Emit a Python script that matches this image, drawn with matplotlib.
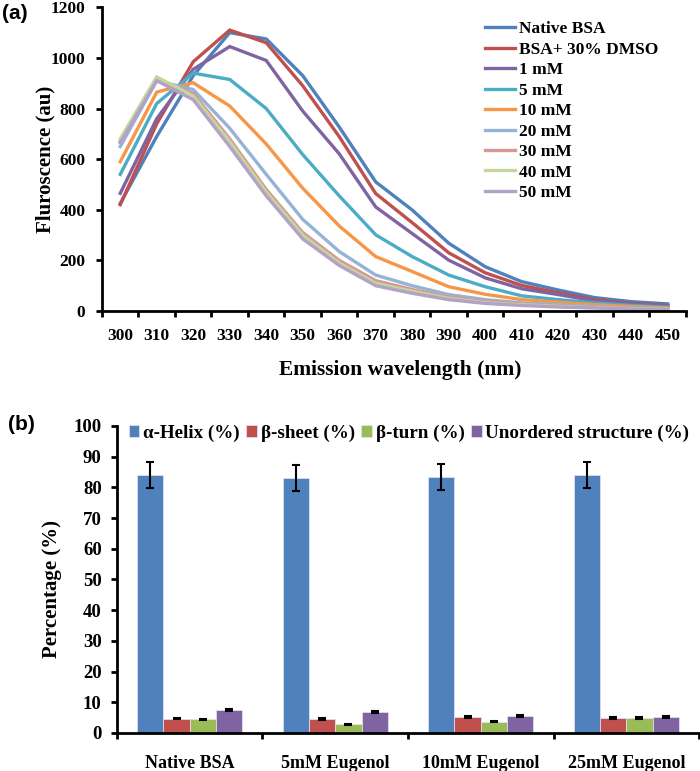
import numpy as np
import matplotlib.pyplot as plt

plt.rcParams['font.family'] = ['Liberation Serif', 'DejaVu Serif']
plt.rcParams['font.weight'] = 'bold'

# panel (a) data
wavelength = [300, 310, 320, 330, 340, 350, 360, 370, 380, 390, 400, 410, 420, 430, 440, 450]
native_bsa = [425, 690, 930, 1100, 1075, 930, 727, 510, 399, 268, 175, 116, 83, 53, 37, 28]
bsa_dmso = [420, 740, 985, 1110, 1060, 890, 689, 464, 349, 230, 151, 101, 72, 45, 30, 22]
mm1 = [465, 760, 955, 1045, 990, 790, 621, 411, 306, 201, 131, 88, 65, 40, 28, 20]
mm5 = [540, 820, 940, 915, 800, 618, 455, 301, 215, 142, 96, 60, 45, 32, 22, 15]
mm10 = [590, 865, 902, 810, 660, 485, 336, 215, 156, 96, 66, 45, 35, 25, 18, 12]
mm20 = [650, 910, 875, 722, 540, 362, 235, 142, 100, 65, 45, 32, 25, 18, 12, 10]
mm30 = [670, 915, 860, 680, 480, 310, 200, 120, 85, 55, 38, 28, 20, 15, 10, 8]
mm40 = [680, 925, 850, 670, 470, 300, 190, 110, 78, 50, 33, 25, 18, 13, 9, 7]
mm50 = [665, 910, 835, 650, 455, 285, 180, 100, 70, 45, 30, 22, 16, 12, 8, 6]

series_a = [native_bsa, bsa_dmso, mm1, mm5, mm10, mm20, mm30, mm40, mm50]
labels_a = ['Native BSA', 'BSA+ 30% DMSO', '1 mM', '5 mM', '10 mM', '20 mM', '30 mM', '40 mM', '50 mM']
colors_a = ['#4F81BD', '#C0504D', '#8064A2', '#4BACC6', '#F79646',
            '#95B3D7', '#D99694', '#C3D69B', '#B3A2C7']

# panel (b) data
groups = ['Native BSA', '5mM Eugenol', '10mM Eugenol', '25mM Eugenol']
helix = [84.1, 83.0, 83.3, 84.1]
helix_err = [4.3, 4.2, 4.2, 4.2]
sheet = [4.7, 4.6, 5.1, 4.9]
sheet_err = [0.3, 0.3, 0.3, 0.3]
turn = [4.4, 2.8, 3.7, 4.8]
turn_err = [0.3, 0.2, 0.2, 0.3]
unordered = [7.4, 6.9, 5.4, 5.1]
unordered_err = [0.4, 0.4, 0.3, 0.3]
labels_b = ['α-Helix (%)', 'β-sheet (%)', 'β-turn (%)', 'Unordered structure (%)']
colors_b = ['#4F81BD', '#C0504D', '#9BBB59', '#8064A2']

fig = plt.figure(figsize=(7, 7.71), dpi=100)

# ---- (a)
ax1 = fig.add_axes([0.1457, 0.5966, 0.8343, 0.3939])
x = np.arange(len(wavelength))
for s, lab, c in zip(series_a, labels_a, colors_a):
    ax1.plot(x, s, color=c, lw=2.4, label=lab, solid_joinstyle='miter')
ax1.set_xlim(-0.5, len(wavelength) - 0.5)
ax1.set_ylim(0, 1200)
ax1.set_yticks(range(0, 1201, 200))
ax1.set_xticks(np.arange(-0.5, len(wavelength), 1))
ax1.set_xticklabels([])
ax1.set_xticks(x, minor=True)
ax1.set_xticklabels([str(w) for w in wavelength], minor=True)
ax1.tick_params(axis='x', which='major', direction='out', length=4, width=2)
ax1.tick_params(axis='x', which='minor', length=0, pad=12, labelsize=12.5)
ax1.tick_params(axis='y', direction='out', length=4, width=2, pad=8, labelsize=12.5)
for sp in ['top', 'right']:
    ax1.spines[sp].set_visible(False)
for sp in ['left', 'bottom']:
    ax1.spines[sp].set_linewidth(2)
ax1.set_ylabel('Fluroscence (au)', fontsize=15, fontweight='bold')
ax1.yaxis.set_label_coords(-0.079, 0.5)
ax1.set_xlabel('Emission wavelength (nm)', fontsize=15.5, fontweight='bold')
ax1.xaxis.set_label_coords(0.51, -0.162)
ax1.legend(loc='upper left', bbox_to_anchor=(0.693, 0.9728), bbox_transform=fig.transFigure,
           frameon=False, fontsize=12.5, handlelength=1.75, handletextpad=0.2,
           labelspacing=0.25, borderpad=0, borderaxespad=0)

# ---- (b)
ax2 = fig.add_axes([0.1671, 0.0493, 0.8315, 0.3982])
gx = np.arange(len(groups))
w = 0.181
vals = [helix, sheet, turn, unordered]
errs = [helix_err, sheet_err, turn_err, unordered_err]
for i, (v, e, lab, c) in enumerate(zip(vals, errs, labels_b, colors_b)):
    ax2.bar(gx + (i - 1.5) * w, v, w, yerr=e, color=c, label=lab,
            edgecolor='#E6E6F0', linewidth=0.5,
            error_kw=dict(ecolor='black', elinewidth=1.5, capsize=3, capthick=1.5))
ax2.set_xlim(-0.5, len(groups) - 0.5)
ax2.set_ylim(0, 100)
ax2.set_yticks(range(0, 101, 10))
ax2.set_xticks(np.arange(-0.5, len(groups), 1))
ax2.set_xticklabels([])
ax2.set_xticks(gx, minor=True)
ax2.set_xticklabels(groups, minor=True)
ax2.tick_params(axis='x', which='major', direction='out', length=4, width=2)
ax2.tick_params(axis='x', which='minor', length=0, pad=16, labelsize=13)
ax2.tick_params(axis='y', direction='out', length=4, width=2, pad=7, labelsize=13.5)
for sp in ['top', 'right']:
    ax2.spines[sp].set_visible(False)
for sp in ['left', 'bottom']:
    ax2.spines[sp].set_linewidth(2)
ax2.set_ylabel('Percentage (%)', fontsize=15, fontweight='bold')
ax2.yaxis.set_label_coords(-0.095, 0.47)
ax2.legend(loc='center left', bbox_to_anchor=(0.184, 0.4384), bbox_transform=fig.transFigure,
           ncol=4, frameon=False, fontsize=13.7, handlelength=0.55, handleheight=0.55,
           handletextpad=0.2, columnspacing=0.35, borderpad=0, borderaxespad=0)

fig.text(0.003, 0.983, '(a)', fontsize=15, fontweight='bold', family='Liberation Sans', va='center')
fig.text(0.011, 0.449, '(b)', fontsize=15, fontweight='bold', family='Liberation Sans', va='center')

fig.savefig('out.png', dpi=100)
